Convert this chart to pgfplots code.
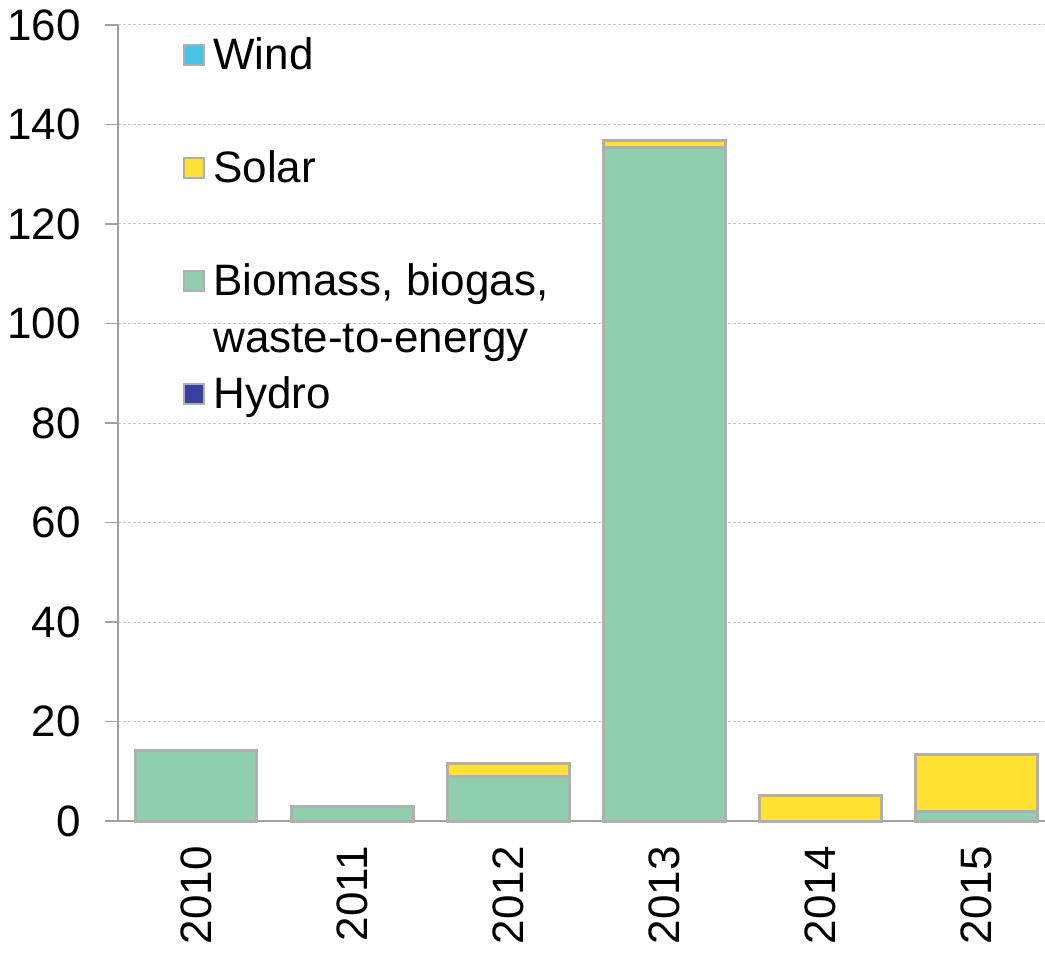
\documentclass[border=0pt]{standalone}
\usepackage{pgfplots}
\pgfplotsset{compat=1.18}
\usepackage{fontspec}
\setmainfont{Liberation Sans}
\definecolor{cWind}{RGB}{70,195,232}
\definecolor{cSolar}{RGB}{255,224,51}
\definecolor{cBio}{RGB}{143,206,175}
\definecolor{cHydro}{RGB}{58,66,160}
\definecolor{cEdge}{RGB}{176,176,176}
\definecolor{cAxis}{RGB}{160,160,160}
\definecolor{cGrid}{RGB}{195,195,195}
\begin{document}
\begin{tikzpicture}
\begin{axis}[
  at={(0pt,0pt)}, anchor=south west,
  scale only axis, width=463.5pt, height=398pt,
  font=\fontsize{22}{26.5}\selectfont,
  /pgf/number format/assume math mode=true,
  ybar stacked, bar width=0.78,
  xmin=-0.5, xmax=5.438, ymin=0, ymax=160,
  ytick={0,20,...,160},
  xtick={0,...,5}, xticklabels={2010,2011,2012,2013,2014,2015},
  major x tick style={draw=none},
  extra x ticks={-0.5,0.5,1.5,2.5,3.5,4.5},
  extra x tick labels={},
  extra x tick style={major tick length=6.5pt, tick style={draw=cAxis, line width=0.75pt}, grid=none},
  tick align=outside, major tick length=6.5pt,
  tick style={draw=cAxis, line width=0.75pt},
  axis x line*=bottom, axis y line*=left,
  axis line style={draw=cAxis, line width=0.75pt, -},
  ymajorgrids, major grid style={draw=cGrid, line width=0.5pt, dash pattern=on 1.5pt off 1pt},
  xticklabel style={rotate=90, anchor=east, inner sep=0pt, xshift=-6pt},
  yticklabel style={anchor=east, inner sep=0pt, xshift=-12pt},
  legend style={draw=none, fill=none, at={(rel axis cs:0.070,0.9837)}, anchor=north west,
    inner sep=0pt, outer sep=0pt, row sep=35.5pt,
    nodes={inner sep=0pt, text height=16pt, text depth=5pt, anchor=base west},
    /tikz/every odd column/.style={column sep=4pt}},
  legend cell align=left, reverse legend,
  legend image code/.code={\draw[#1, line width=1.2pt] (0pt,2.5pt) rectangle (10pt,12.5pt);},
  clip=false,
]
\addplot[fill=cHydro, draw=cEdge, line width=1.5pt] coordinates {(0,0) (1,0) (2,0) (3,0) (4,0) (5,0)};
\addlegendentry{Hydro}
\addplot[fill=cBio, draw=cEdge, line width=1.5pt] coordinates {(0,14.1) (1,3.0) (2,8.9) (3,135.4) (4,0) (5,2.0)};
\addlegendentry{\smash{\begin{tabular}[t]{@{}l@{}}Biomass, biogas,\\[2pt]waste-to-energy\end{tabular}}}
\addplot[fill=cSolar, draw=cEdge, line width=1.5pt] coordinates {(0,0) (1,0) (2,2.7) (3,1.3) (4,5.2) (5,11.3)};
\addlegendentry{Solar}
\addplot[fill=cWind, draw=cEdge, line width=1.5pt] coordinates {(0,0) (1,0) (2,0) (3,0) (4,0) (5,0)};
\addlegendentry{Wind}
\end{axis}
\pgfresetboundingbox
\path (-59pt,-66.5pt) rectangle (463.5pt,410.5pt);
\end{tikzpicture}
\end{document}
